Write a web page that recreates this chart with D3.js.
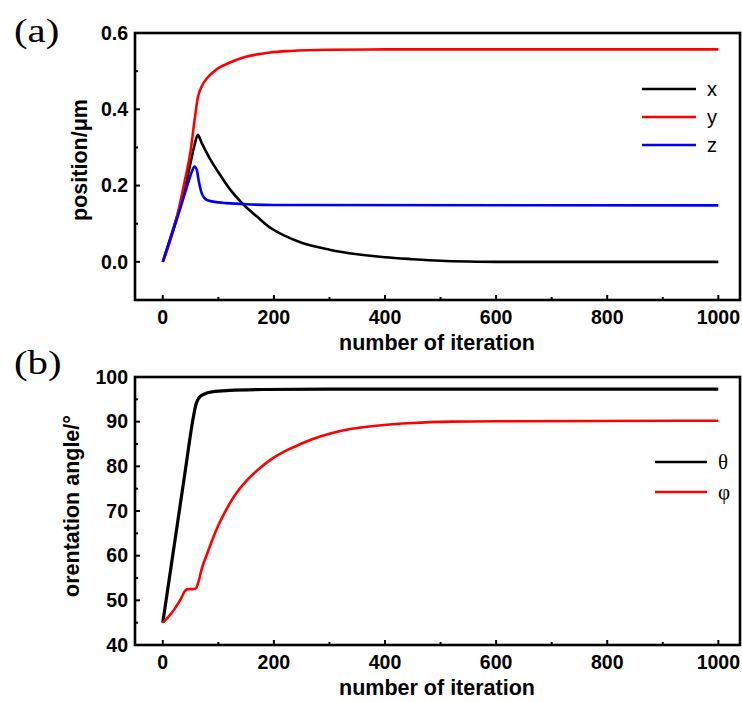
<!DOCTYPE html>
<html>
<head>
<meta charset="utf-8">
<script src="https://cdn.jsdelivr.net/npm/d3@7"></script>
<style>
  body { margin: 0; background: #fff; }
  svg { display: block; }
  .tick-label { font-family: "Liberation Sans", Arial, sans-serif; font-weight: bold; font-size: 19.5px; }
  .axis-title { font-family: "Liberation Sans", Arial, sans-serif; font-weight: bold; font-size: 21.5px; }
</style>
</head>
<body>
<div id="chart"></div>
<script>
// panel (a): position vs iteration, [iteration, value]
const posX = [[0,0],[10,0.045],[20,0.092],[30,0.14],[40,0.192],[50,0.26],[57,0.305],[63,0.333],[70,0.312],[85,0.27],[100,0.235],[121,0.19],[144,0.152],[170,0.118],[193,0.09],[220,0.068],[250,0.05],[300,0.032],[350,0.02],[400,0.012],[450,0.007],[500,0.003],[550,0.001],[600,0],[1000,0]];
const posY = [[0,0],[10,0.04],[25,0.115],[40,0.215],[50,0.29],[58,0.38],[63,0.43],[70,0.46],[80,0.482],[97,0.505],[120,0.522],[145,0.536],[170,0.544],[193,0.549],[230,0.553],[300,0.556],[400,0.557],[1000,0.557]];
const posZ = [[0,0],[10,0.045],[25,0.11],[42,0.19],[52,0.235],[57,0.25],[61,0.242],[65,0.21],[70,0.18],[75,0.167],[82,0.161],[100,0.156],[115,0.154],[150,0.151],[200,0.149],[1000,0.148]];

// panel (b): orientation angle vs iteration
const theta = [[0,45],[20,61.8],[40,78.6],[55,91],[60,94],[65,95.3],[75,96.2],[90,96.7],[120,97],[180,97.2],[300,97.3],[1000,97.3]];
const phi = [[0,45],[10,46.3],[22,48.2],[32,50.2],[40,52.1],[45,52.5],[55,52.5],[60,52.8],[65,54.5],[70,57],[80,60.5],[90,63.8],[100,66.8],[115,70.5],[130,73.6],[150,76.7],[170,79.1],[193,81.4],[220,83.4],[241,84.6],[270,86.1],[300,87.3],[340,88.4],[385,89.1],[450,89.7],[520,90],[600,90.1],[1000,90.2]];

const xTicks = [0, 200, 400, 600, 800, 1000];
const yTicksA = [0.0, 0.2, 0.4, 0.6];
const yTicksB = [40, 50, 60, 70, 80, 90, 100];

const width = 742, height = 702;
const svg = d3.select("#chart").append("svg")
  .attr("width", width)
  .attr("height", height);

function drawPanel(cfg) {
  let g = svg.append("g");

  let x = d3.scaleLinear().domain([-50, 1039]).range([135, 740]);
  let y = d3.scaleLinear().domain(cfg.yDomain).range([cfg.bottom, cfg.top]);

  // data lines
  let line = d3.line()
    .x(d => x(d[0]))
    .y(d => y(d[1]))
    .curve(d3.curveMonotoneX);

  cfg.series.forEach(s => {
    g.append("path")
      .datum(s.data)
      .attr("fill", "none")
      .attr("stroke", s.color)
      .attr("stroke-width", s.width || 2.6)
      .attr("stroke-linejoin", "round")
      .attr("d", line);
  });

  // minor + major ticks pointing inward
  let xMinor = d3.range(0, 1001, 100);
  g.selectAll(null).data(xMinor).enter().append("line")
    .attr("x1", d => x(d)).attr("x2", d => x(d))
    .attr("y1", cfg.bottom)
    .attr("y2", d => cfg.bottom - (xTicks.includes(d) ? 5 : 3))
    .attr("stroke", "#000").attr("stroke-width", 2);

  g.selectAll(null).data(cfg.yMinor).enter().append("line")
    .attr("y1", d => y(d)).attr("y2", d => y(d))
    .attr("x1", 135)
    .attr("x2", d => 135 + (cfg.yTicks.some(t => Math.abs(t - d) < 1e-9) ? 5 : 3))
    .attr("stroke", "#000").attr("stroke-width", 2);

  // frame
  g.append("rect")
    .attr("x", 135).attr("y", cfg.top)
    .attr("width", 740 - 135).attr("height", cfg.bottom - cfg.top)
    .attr("fill", "none").attr("stroke", "#000").attr("stroke-width", 2.6);

  // tick labels
  g.selectAll(null).data(xTicks).enter().append("text")
    .attr("class", "tick-label")
    .attr("x", d => x(d))
    .attr("y", cfg.bottom + 24)
    .attr("text-anchor", "middle")
    .text(d => d);

  g.selectAll(null).data(cfg.yTicks).enter().append("text")
    .attr("class", "tick-label")
    .attr("x", 128)
    .attr("y", d => y(d))
    .attr("dy", "0.35em")
    .attr("text-anchor", "end")
    .text(cfg.yFormat);

  // axis titles
  g.append("text")
    .attr("class", "axis-title")
    .attr("x", 437)
    .attr("y", cfg.bottom + 50)
    .attr("text-anchor", "middle")
    .text("number of iteration");

  g.append("text")
    .attr("class", "axis-title")
    .attr("transform", "translate(" + cfg.yTitleX + "," + cfg.yTitleY + ") rotate(-90)")
    .attr("text-anchor", "middle")
    .text(cfg.yTitle);

  // panel label
  g.append("text")
    .attr("transform", "translate(14," + cfg.labelY + ") scale(1.2,1)")
    .style("font-family", "'Liberation Serif', 'Times New Roman', serif")
    .style("font-size", "34px")
    .text(cfg.label);

  // legend
  cfg.series.forEach((s, i) => {
    let ly = cfg.legend.y[i];
    g.append("line")
      .attr("x1", cfg.legend.x1).attr("x2", cfg.legend.x2)
      .attr("y1", ly).attr("y2", ly)
      .attr("stroke", s.color).attr("stroke-width", 2.6);
    g.append("text")
      .attr("x", cfg.legend.x2 + 11)
      .attr("y", ly)
      .attr("dy", "0.33em")
      .style("font-family", cfg.legend.font)
      .style("font-size", cfg.legend.size)
      .text(s.name);
  });
}

drawPanel({
  top: 33, bottom: 300,
  yDomain: [-0.1, 0.6],
  yTicks: yTicksA,
  yMinor: d3.range(-1, 7).map(d => d / 10),
  yFormat: d => d.toFixed(1),
  yTitle: "position/\u03bcm",
  yTitleX: 87, yTitleY: 160,
  label: "(a)", labelY: 42,
  series: [
    {name: "x", color: "#000000", data: posX},
    {name: "y", color: "#ff0000", data: posY},
    {name: "z", color: "#0000ff", data: posZ}
  ],
  legend: {x1: 642, x2: 696, y: [89, 117, 145], font: "'Liberation Sans', Arial, sans-serif", size: "20px"}
});

drawPanel({
  top: 377, bottom: 645,
  yDomain: [40, 100],
  yTicks: yTicksB,
  yMinor: d3.range(40, 101, 5),
  yFormat: d => d,
  yTitle: "orentation angle/\u00b0",
  yTitleX: 79, yTitleY: 506,
  label: "(b)", labelY: 374,
  series: [
    {name: "\u03b8", color: "#000000", data: theta, width: 3.2},
    {name: "\u03c6", color: "#ff0000", data: phi}
  ],
  legend: {x1: 655, x2: 707, y: [462, 492], font: "'Liberation Serif', 'Times New Roman', serif", size: "21px"}
});
</script>
</body>
</html>
